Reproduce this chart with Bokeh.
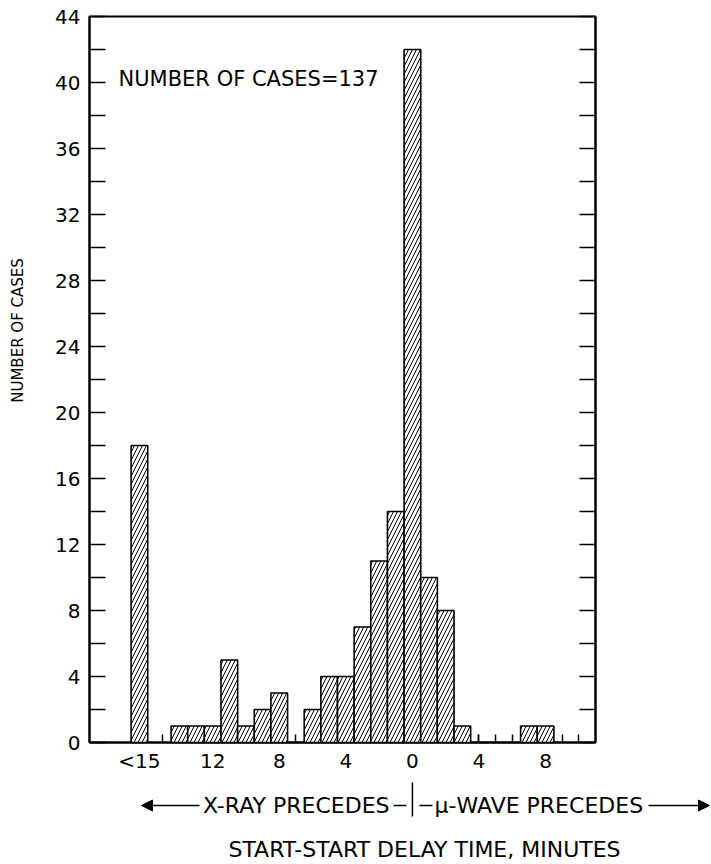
import math

from bokeh.embed import file_html
from bokeh.layouts import column, row
from bokeh.models import Arrow, FixedTicker, Label, LinearAxis, NormalHead, Range1d
from bokeh.plotting import figure
from bokeh.resources import INLINE

# Start-start delay (minutes, negative = X-ray first) and number of cases per 1-minute bin.
# The leftmost bin collects every delay longer than 15 minutes.
bin_centers = [-16.4, -14, -13, -12, -11, -10, -9, -8, -7, -6, -5, -4, -3, -2, -1,
               0, 1, 2, 3, 4, 5, 6, 7, 8]
case_counts = [18, 1, 1, 1, 5, 1, 2, 3, 0, 2, 4, 4, 7, 11, 14,
               42, 10, 8, 1, 0, 0, 0, 1, 1]

x_tick_positions = [-16.4, -12, -8, -4, 0, 4, 8]
x_tick_labels = ["<15", "12", "8", "4", "0", "4", "8"]
x_minor_ticks = list(range(-15, 11))

y_major_ticks = list(range(0, 45, 4))
y_minor_ticks = list(range(2, 44, 4))

total_cases = sum(case_counts)

FONT = "DejaVu Sans"

# page geometry (pixels) and scale shared by the three panels
PAGE_W, PAGE_H = 711, 864
LABEL_W = 30             # strip holding the vertical axis title
MAIN_H = 775             # histogram panel height
X_LO, X_HI = -19.4, 11.0
Y_LO, Y_HI = 0, 44
FRAME_L, FRAME_R, FRAME_T, FRAME_B = 89, 595, 16, 742
px_per_min = (FRAME_R - FRAME_L) / (X_HI - X_LO)
px_per_case = (FRAME_B - FRAME_T) / (Y_HI - Y_LO)
x0_px = FRAME_L - X_LO * px_per_min


def x_at(px):
    return (px - x0_px) / px_per_min


def y_at(py):
    return (FRAME_B - py) / px_per_case


# ---------------- histogram ----------------
p = figure(
    width=PAGE_W - LABEL_W, height=MAIN_H,
    x_range=Range1d(X_LO, X_HI), y_range=Range1d(Y_LO, Y_HI),
    output_backend="svg", toolbar_location=None,
    min_border_left=FRAME_L - LABEL_W, min_border_right=PAGE_W - FRAME_R,
    min_border_top=FRAME_T, min_border_bottom=MAIN_H - FRAME_B,
)
p.frame_align = False
p.grid.visible = False
p.outline_line_color = "black"
p.outline_line_width = 2
p.background_fill_color = "white"
p.border_fill_color = "white"

# hatched bars, painted above the axes so the inward ticks stay hidden behind them
p.vbar(
    x=bin_centers, top=case_counts, bottom=0, width=1,
    fill_color="white", line_color="black", line_width=1.6,
    hatch_pattern="/", hatch_color="black", hatch_scale=8, hatch_weight=1,
    level="annotation",
)

xa = p.xaxis[0]
xa.ticker = FixedTicker(ticks=x_tick_positions, minor_ticks=x_minor_ticks)
xa.major_label_overrides = {pos: lab for pos, lab in zip(x_tick_positions, x_tick_labels)}
xa.major_tick_in = 8
xa.major_tick_out = 0
xa.minor_tick_in = 8
xa.minor_tick_out = 0
xa.axis_line_width = 2
xa.major_tick_line_width = 1.5
xa.minor_tick_line_width = 1.5
xa.major_label_standoff = 6
xa.major_label_text_font = FONT
xa.major_label_text_font_size = "20px"
xa.major_label_text_color = "black"

y_ticker = FixedTicker(ticks=y_major_ticks, minor_ticks=y_minor_ticks)
ya = p.yaxis[0]
ya.ticker = y_ticker
ya.major_tick_in = 16
ya.major_tick_out = 0
ya.minor_tick_in = 16
ya.minor_tick_out = 0
ya.axis_line_width = 2
ya.major_tick_line_width = 1.5
ya.minor_tick_line_width = 1.5
ya.major_label_standoff = 9
ya.major_label_text_font = FONT
ya.major_label_text_font_size = "20px"
ya.major_label_text_color = "black"

ra = LinearAxis(ticker=y_ticker)
ra.major_tick_in = 16
ra.major_tick_out = 0
ra.minor_tick_in = 16
ra.minor_tick_out = 0
ra.axis_line_width = 2
ra.major_tick_line_width = 1.5
ra.minor_tick_line_width = 1.5
ra.major_label_text_color = None
p.add_layout(ra, "right")

p.add_layout(Label(
    x=x_at(118), y=y_at(78), text=f"NUMBER OF CASES={total_cases}",
    text_font=FONT, text_font_size="21px", text_color="black",
    text_align="left", text_baseline="middle",
))


def blank_panel(width, height, x_range, y_range):
    f = figure(
        width=width, height=height, x_range=x_range, y_range=y_range,
        output_backend="svg", toolbar_location=None,
        x_axis_type=None, y_axis_type=None,
        min_border_left=0, min_border_right=0, min_border_top=0, min_border_bottom=0,
    )
    f.frame_align = False
    f.grid.visible = False
    f.outline_line_color = None
    f.background_fill_color = "white"
    f.border_fill_color = "white"
    return f


# ---------------- vertical axis title ----------------
yl = blank_panel(LABEL_W, PAGE_H, Range1d(0, LABEL_W), Range1d(y_at(PAGE_H), y_at(0)))
yl.add_layout(Label(
    x=17, y=y_at(330), text="NUMBER OF CASES", angle=math.pi / 2,
    text_font=FONT, text_font_size="15px", text_color="black",
    text_align="center", text_baseline="middle",
))

# ---------------- direction legend and x title ----------------
xl = blank_panel(PAGE_W - LABEL_W, PAGE_H - MAIN_H,
                 Range1d(x_at(LABEL_W), x_at(PAGE_W)), Range1d(y_at(PAGE_H), y_at(MAIN_H)))

row_y = y_at(805)
head = dict(size=11, fill_color="black", line_color="black")
xl.add_layout(Label(
    x=x_at(389), y=row_y, text="X-RAY PRECEDES",
    text_font=FONT, text_font_size="22px", text_color="black",
    text_align="right", text_baseline="middle",
))
xl.add_layout(Label(
    x=x_at(434), y=row_y, text="\u03bc-WAVE PRECEDES",
    text_font=FONT, text_font_size="22px", text_color="black",
    text_align="left", text_baseline="middle",
))
# divider at zero delay and the short dashes either side of it
xl.add_layout(Arrow(x_start=0, y_start=y_at(782), x_end=0, y_end=y_at(816),
                    end=None, line_color="black", line_width=1.5))
xl.add_layout(Arrow(x_start=x_at(393), y_start=row_y, x_end=x_at(406), y_end=row_y,
                    end=None, line_color="black", line_width=1.5))
xl.add_layout(Arrow(x_start=x_at(419), y_start=row_y, x_end=x_at(432), y_end=row_y,
                    end=None, line_color="black", line_width=1.5))
# direction arrows
xl.add_layout(Arrow(x_start=x_at(199), y_start=row_y, x_end=x_at(141), y_end=row_y,
                    end=NormalHead(**head), line_color="black", line_width=1.5))
xl.add_layout(Arrow(x_start=x_at(648), y_start=row_y, x_end=x_at(709), y_end=row_y,
                    end=NormalHead(**head), line_color="black", line_width=1.5))

xl.add_layout(Label(
    x=x_at(424), y=y_at(849), text="START-START DELAY TIME, MINUTES",
    text_font=FONT, text_font_size="22px", text_color="black",
    text_align="center", text_baseline="middle",
))

layout = row(yl, column(p, xl))
open("out.html", "w").write(file_html(layout, INLINE))
